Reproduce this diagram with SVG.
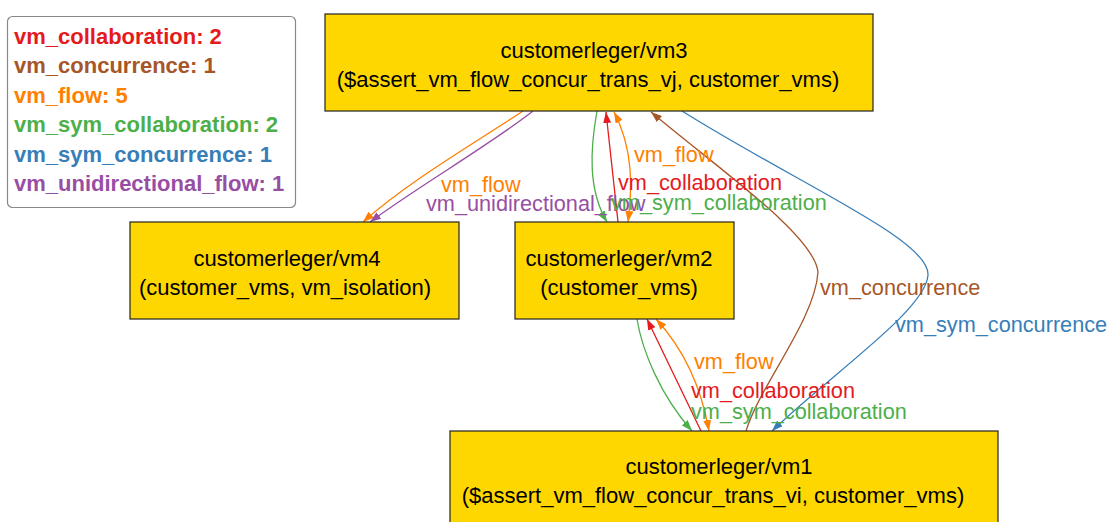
<svg xmlns="http://www.w3.org/2000/svg" width="1109" height="522" viewBox="0 0 1109 522">
<style>
.node rect{fill:#ffd700;stroke:#222;stroke-width:1.2}
.nt{font-family:"Liberation Sans",Arial,sans-serif;font-size:22px;fill:#000;text-anchor:middle}
.el{font-family:"Liberation Sans",Arial,sans-serif;font-size:21.7px}
.lg{font-family:"Liberation Sans",Arial,sans-serif;font-size:22px;font-weight:bold}
.e{fill:none;stroke-width:1.3}
.red{stroke:#e41a1c}.brown{stroke:#a65628}.orange{stroke:#ff7f00}.green{stroke:#4daf4a}.blue{stroke:#377eb8}.purple{stroke:#984ea3}
</style>
<defs>
<marker id="aRed" markerUnits="userSpaceOnUse" markerWidth="11" markerHeight="8" refX="11" refY="4" orient="auto-start-reverse"><path d="M0,0 L11,4 L0,8 z" fill="#e41a1c"/></marker>
<marker id="aBrown" markerUnits="userSpaceOnUse" markerWidth="11" markerHeight="8" refX="11" refY="4" orient="auto-start-reverse"><path d="M0,0 L11,4 L0,8 z" fill="#a65628"/></marker>
<marker id="aOrange" markerUnits="userSpaceOnUse" markerWidth="11" markerHeight="8" refX="11" refY="4" orient="auto-start-reverse"><path d="M0,0 L11,4 L0,8 z" fill="#ff7f00"/></marker>
<marker id="aGreen" markerUnits="userSpaceOnUse" markerWidth="11" markerHeight="8" refX="11" refY="4" orient="auto-start-reverse"><path d="M0,0 L11,4 L0,8 z" fill="#4daf4a"/></marker>
<marker id="aBlue" markerUnits="userSpaceOnUse" markerWidth="11" markerHeight="8" refX="11" refY="4" orient="auto-start-reverse"><path d="M0,0 L11,4 L0,8 z" fill="#377eb8"/></marker>
<marker id="aPurple" markerUnits="userSpaceOnUse" markerWidth="11" markerHeight="8" refX="11" refY="4" orient="auto-start-reverse"><path d="M0,0 L11,4 L0,8 z" fill="#984ea3"/></marker>
</defs>
<rect width="1109" height="522" fill="#fff"/>
<g id="legend">
<rect x="7.5" y="16.5" width="288" height="191" rx="5" ry="5" fill="#fff" stroke="#888" stroke-width="1.2"/>
<text class="lg" x="14" y="44" fill="#e41a1c">vm_collaboration: 2</text>
<text class="lg" x="14" y="73.4" fill="#a65628">vm_concurrence: 1</text>
<text class="lg" x="14" y="102.8" fill="#ff7f00">vm_flow: 5</text>
<text class="lg" x="14" y="132.2" fill="#4daf4a">vm_sym_collaboration: 2</text>
<text class="lg" x="14" y="161.6" fill="#377eb8">vm_sym_concurrence: 1</text>
<text class="lg" x="14" y="191" fill="#984ea3">vm_unidirectional_flow: 1</text>
</g>
<g id="connectors">
<path class="e orange" d="M523,111 C480,140 410,180 363,222" marker-end="url(#aOrange)"/>
<path class="e purple" d="M533,111 C490,145 420,185 370,222" marker-end="url(#aPurple)"/>
<path class="e green" d="M597,111 C590,150 588,190 607,222" marker-end="url(#aGreen)"/>
<path class="e red" d="M618,222 L606,112" marker-end="url(#aRed)"/>
<path class="e orange" d="M614,112 C634,150 632,190 628,222" marker-start="url(#aOrange)" marker-end="url(#aOrange)"/>
<path class="e brown" d="M746,431 C760,385 815,320 818,272 C814,235 720,170 651,112" marker-end="url(#aBrown)"/>
<path class="e blue" d="M682,111 C800,185 930,240 928,275 C926,310 830,375 772,431" marker-end="url(#aBlue)"/>
<path class="e green" d="M637,319 C642,350 660,395 692,431" marker-end="url(#aGreen)"/>
<path class="e red" d="M701,431 L647,319" marker-end="url(#aRed)"/>
<path class="e orange" d="M656,319 C680,345 700,380 709,431" marker-start="url(#aOrange)" marker-end="url(#aOrange)"/>
<text class="el" x="441" y="191.5" fill="#ff7f00">vm_flow</text>
<text class="el" x="426" y="211" fill="#984ea3">vm_unidirectional_flow</text>
<text class="el" x="634" y="162" fill="#ff7f00">vm_flow</text>
<text class="el" x="618" y="190" fill="#e41a1c">vm_collaboration</text>
<text class="el" x="611" y="210" fill="#4daf4a">vm_sym_collaboration</text>
<text class="el" x="820" y="295" fill="#a65628">vm_concurrence</text>
<text class="el" x="895" y="332" fill="#377eb8">vm_sym_concurrence</text>
<text class="el" x="694" y="368.5" fill="#ff7f00">vm_flow</text>
<text class="el" x="691" y="398" fill="#e41a1c">vm_collaboration</text>
<text class="el" x="691" y="418.5" fill="#4daf4a">vm_sym_collaboration</text>
</g>
<g id="vm3" class="node">
<rect x="325" y="14" width="548" height="97"/>
<text class="nt" x="594" y="58">customerleger/vm3</text>
<text class="nt" x="588" y="87">($assert_vm_flow_concur_trans_vj, customer_vms)</text>
</g>
<g id="vm4" class="node">
<rect x="130" y="222" width="329" height="97"/>
<text class="nt" x="287" y="266">customerleger/vm4</text>
<text class="nt" x="285" y="295">(customer_vms, vm_isolation)</text>
</g>
<g id="vm2" class="node">
<rect x="515" y="222" width="219" height="97"/>
<text class="nt" x="619" y="266">customerleger/vm2</text>
<text class="nt" x="619" y="295">(customer_vms)</text>
</g>
<g id="vm1" class="node">
<rect x="450" y="431" width="548" height="97"/>
<text class="nt" x="719" y="474">customerleger/vm1</text>
<text class="nt" x="713" y="503">($assert_vm_flow_concur_trans_vi, customer_vms)</text>
</g>
</svg>
